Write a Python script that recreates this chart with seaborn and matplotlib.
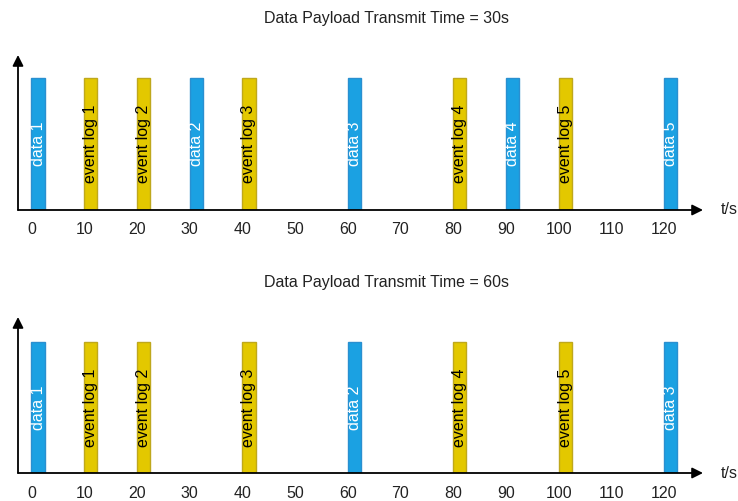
import pandas as pd
import matplotlib.pyplot as plt
import seaborn as sns

# --- Data ---
titles = ["Data Payload Transmit Time = 30s", "Data Payload Transmit Time = 60s"]
data_times_30 = [0, 30, 60, 90, 120]
data_times_60 = [0, 60, 120]
event_times = [10, 20, 40, 80, 100]
tick_values = [0, 10, 20, 30, 40, 50, 60, 70, 80, 90, 100, 110, 120]

bar_len = 2.5  # seconds each transmission block lasts on the chart

fill = {"data": "#1ba1e2", "event": "#e3c800"}
edge = {"data": "#2a8fd0", "event": "#bfa81c"}
text_col = {"data": "white", "event": "black"}

sns.set_theme(style="white")
plt.rcParams["font.family"] = ["Liberation Sans", "DejaVu Sans"]


def build_frame(data_times):
    rows = [("data", t, f"data {i + 1}") for i, t in enumerate(data_times)]
    rows += [("event", t, f"event log {i + 1}") for i, t in enumerate(event_times)]
    df = pd.DataFrame(rows, columns=["kind", "start", "label"])
    df["center"] = df["start"] + bar_len / 2
    df["height"] = 1.0
    return df


fig = plt.figure(figsize=(7.38, 5.01), dpi=100)
W, H = 738, 501

# axes boxes in pixel coords: (left, top, right, bottom), plus bar top
boxes = [(18, 55, 703, 210, 78), (18, 317, 703, 473, 342)]
title_y = [18, 283]

for idx, data_times in enumerate([data_times_30, data_times_60]):
    l, t, r, b, bar_top = boxes[idx]
    ax = fig.add_axes([l / W, 1 - b / H, (r - l) / W, (b - t) / H])
    df = build_frame(data_times)

    sorted_pos = sorted(df["center"])
    min_gap = min(b2 - a2 for a2, b2 in zip(sorted_pos, sorted_pos[1:]))

    sns.barplot(data=df, x="center", y="height", hue="kind", palette=fill,
                native_scale=True, dodge=False, width=bar_len / min_gap,
                saturation=1, legend=False, ax=ax)

    for patch in ax.patches:
        fc = patch.get_facecolor()
        kind = "data" if fc[2] > 0.5 else "event"
        patch.set_edgecolor(edge[kind])
        patch.set_linewidth(1.0)

    for _, row in df.iterrows():
        ax.text(row["center"], 0.5, row["label"], rotation=90, ha="center",
                va="center", fontsize=11.5, color=text_col[row["kind"]])

    ax.set_xlim(-2.56, 127.4)
    ax.set_ylim(0, (b - t) / (b - bar_top))
    ax.set_xticks(tick_values)
    ax.set_xticklabels([str(v) for v in tick_values], fontsize=11.5, color="#222222")
    ax.tick_params(axis="x", length=0, pad=9)
    ax.set_yticks([])
    ax.set_xlabel("")
    ax.set_ylabel("")
    for s in ax.spines.values():
        s.set_visible(False)

    # Arrow-style axes like a hand-drawn timeline
    for end in [(1, 0), (0, 1)]:
        ax.annotate("", xy=end, xytext=(0, 0), xycoords="axes fraction",
                    arrowprops=dict(arrowstyle="-|>", color="black", lw=1.3,
                                    mutation_scale=16, shrinkA=0, shrinkB=0))
    ax.set_facecolor("white")

    fig.text(721 / W, 1 - b / H, "t/s", fontsize=11.5, ha="left", va="center",
             color="#222222")
    fig.text(387 / W, 1 - title_y[idx] / H, titles[idx], fontsize=11.5,
             ha="center", va="center", color="#222222")

fig.savefig("out.png", dpi=100, facecolor="white")
